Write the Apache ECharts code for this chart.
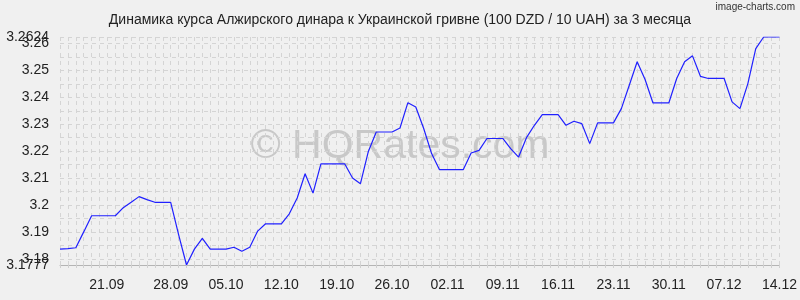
<!DOCTYPE html>
<html>
<head>
<meta charset="utf-8">
<script src="https://cdn.jsdelivr.net/npm/echarts@6/dist/echarts.min.js"></script>
<style>
html,body{margin:0;padding:0;background:#f0f0f0;}
#chart{width:800px;height:300px;}
</style>
</head>
<body>
<div id="chart"></div>
<script>
const categories = [
'14.09','15.09','16.09','17.09','18.09','19.09','20.09','21.09','22.09','23.09','24.09','25.09','26.09','27.09','28.09','29.09','30.09',
'01.10','02.10','03.10','04.10','05.10','06.10','07.10','08.10','09.10','10.10','11.10','12.10','13.10','14.10','15.10','16.10','17.10','18.10','19.10','20.10','21.10','22.10','23.10','24.10','25.10','26.10','27.10','28.10','29.10','30.10','31.10',
'01.11','02.11','03.11','04.11','05.11','06.11','07.11','08.11','09.11','10.11','11.11','12.11','13.11','14.11','15.11','16.11','17.11','18.11','19.11','20.11','21.11','22.11','23.11','24.11','25.11','26.11','27.11','28.11','29.11','30.11',
'01.12','02.12','03.12','04.12','05.12','06.12','07.12','08.12','09.12','10.12','11.12','12.12','13.12','14.12'
];
const rates = [
3.1836,3.1838,3.1841,3.1900,3.1960,3.1960,3.1960,3.1960,3.1990,3.2010,
3.2031,3.2020,3.2010,3.2010,3.2010,3.1890,3.1777,3.1836,3.1876,3.1836,
3.1836,3.1836,3.1843,3.1828,3.1843,3.1903,3.1930,3.1930,3.1930,3.1967,
3.2026,3.2116,3.2044,3.2153,3.2153,3.2153,3.2153,3.2100,3.2079,3.2199,
3.2271,3.2271,3.2271,3.2286,3.2380,3.2364,3.2284,3.2191,3.2131,3.2131,
3.2131,3.2131,3.2193,3.2203,3.2247,3.2247,3.2247,3.2209,3.2178,3.2250,
3.2296,3.2336,3.2336,3.2336,3.2296,3.2311,3.2302,3.2228,3.2305,3.2305,
3.2305,3.2358,3.2445,3.2532,3.2466,3.2379,3.2379,3.2379,3.2470,3.2532,
3.2554,3.2478,3.2470,3.2470,3.2470,3.2383,3.2358,3.2451,3.2581,3.2624,
3.2624,3.2624
];
const yMin = 3.1777;
const yMax = 3.2624;
const titleText = 'Динамика курса Алжирского динара к Украинской гривне (100 DZD / 10 UAH) за 3 месяца';
const watermarkText = '© HQRates.com';
const creditText = 'image-charts.com';

const chart = echarts.init(document.getElementById('chart'), null, {renderer:'canvas'});
const font = 'Liberation Sans, Arial, sans-serif';
const labelBase = {fontFamily: font, fontSize: 14, color: '#222', margin: 11, hideOverlap: false};
chart.setOption({
  backgroundColor: '#f0f0f0',
  animation: false,
  title: {
    text: titleText,
    left: 'center',
    top: 8,
    textStyle: {fontFamily: font, fontSize: 14, fontWeight: 'normal', color: '#222'}
  },
  graphic: [
    {type:'text', right: 5, top: 2, z: 10,
     style:{text: creditText, font: '10px ' + font, fill:'#333'}},
    {type:'text', left: 'center', top: 126, z: 0, silent: true,
     style:{text: watermarkText, font: '41px ' + font, fill:'#c8c8c8'}}
  ],
  grid: {left: 60, right: 20, top: 37, bottom: 35, containLabel: false},
  xAxis: {
    type: 'category',
    data: categories,
    boundaryGap: false,
    axisLine: {show: true, lineStyle: {color: '#b4b4b4', width: 1}},
    axisTick: {show: true, interval: 0, length: 6, lineStyle: {color: '#d0d0d0', type: [3,3]}},
    axisLabel: {
      interval: function(i){ return i > 0 && i % 7 === 0; },
      margin: 13,
      fontFamily: font, fontSize: 14, color: '#222',
      formatter: function(v, i){ return i === 7 ? '{first|' + v + '}' : v; },
      rich: {first: {fontFamily: font, fontSize: 14, color: '#222', padding: [0, 17, 0, 0]}}
    },
    splitLine: {show: true, interval: 0, lineStyle: {color: '#d4d4d4', type: [4,4], width: 1}}
  },
  yAxis: [{
    type: 'value',
    min: yMin,
    max: yMax,
    splitNumber: 17,
    axisLine: {show: false},
    axisTick: {show: false},
    axisLabel: Object.assign({}, labelBase, {
      showMinLabel: false, showMaxLabel: false,
      formatter: function(v){
        const r = Math.round(v * 10000);
        if (r % 100 === 0) return String(+v.toFixed(4));
        return '';
      }
    }),
    splitLine: {show: true, lineStyle: {color: '#d4d4d4', type: [4,4], width: 1}}
  }, {
    type: 'value',
    position: 'left',
    offset: 0,
    min: yMin,
    max: yMax,
    splitNumber: 17,
    axisLine: {show: false},
    axisTick: {show: false},
    splitLine: {show: false},
    axisLabel: Object.assign({}, labelBase, {
      showMinLabel: true, showMaxLabel: true,
      formatter: function(v){
        const r = Math.round(v * 10000);
        if (r === Math.round(yMin * 10000) || r === Math.round(yMax * 10000)) return String(+v.toFixed(4));
        return '';
      }
    })
  }],
  series: [{
    type: 'line',
    data: rates,
    yAxisIndex: 0,
    showSymbol: false,
    z: 5,
    lineStyle: {color: '#2020ff', width: 1.2},
    itemStyle: {color: '#2020ff'}
  }]
});
</script>
</body>
</html>
